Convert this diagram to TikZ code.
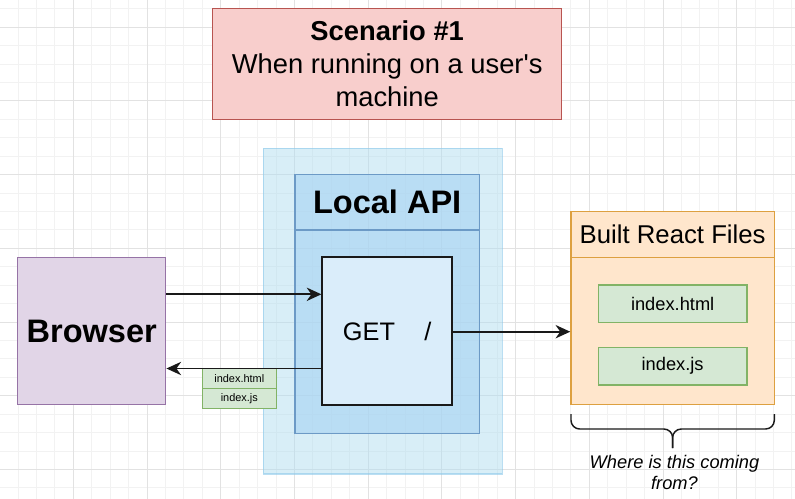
\documentclass[tikz,border=0pt]{standalone}
\usepackage{fontspec}
\setmainfont{Liberation Sans}[Ligatures=TeXOff]
\usetikzlibrary{positioning, arrows.meta}

\definecolor{minorgrid}{HTML}{F2F2F2}
\definecolor{majorgrid}{HTML}{E2E2E2}
\definecolor{titlefill}{HTML}{F8CECC}
\definecolor{titledraw}{HTML}{B85450}
\definecolor{browserfill}{HTML}{E1D5E7}
\definecolor{browserdraw}{HTML}{9673A6}
\definecolor{zonefill}{HTML}{B1DDF0}
\definecolor{zonedraw}{HTML}{8CC8EA}
\definecolor{apifill}{HTML}{A6D2F2}
\definecolor{apidraw}{HTML}{6C9AC6}
\definecolor{getfill}{HTML}{DAEDFA}
\definecolor{filesfill}{HTML}{FFE6CC}
\definecolor{filesdraw}{HTML}{DDA040}
\definecolor{htmlfill}{HTML}{D5E8D4}
\definecolor{htmldraw}{HTML}{82B366}

\tikzset{
  box/.style={draw, line width=1.1pt, inner sep=0pt, align=center},
  arr/.style={-{Stealth[length=11pt, width=10pt, inset=3.5pt]}, line width=1.4pt, black!90},
}

\begin{document}
\begin{tikzpicture}[x=0.75pt, y=-0.75pt, on grid,
    titlebox/.style={box, fill=titlefill, draw=titledraw, minimum width=261.75pt, minimum height=83.25pt, font=\fontsize{20.5}{25}\selectfont},
    browserbox/.style={box, fill=browserfill, draw=browserdraw, minimum width=111pt, minimum height=110.5pt, font=\bfseries\fontsize{24.4}{29}\selectfont},
    apibox/.style={box, fill=apifill, fill opacity=0.6, draw=apidraw, minimum width=138.2pt, minimum height=194.25pt},
    getbox/.style={box, fill=getfill, draw=black!90, line width=1.4pt, minimum width=97.3pt, minimum height=111pt, font=\fontsize{19}{23}\selectfont},
    filesbox/.style={box, fill=filesfill, draw=filesdraw, minimum width=152.5pt, minimum height=144.5pt},
    filebox/.style={box, fill=htmlfill, draw=htmldraw, minimum width=111.5pt, minimum height=28.3pt, font=\fontsize{13.7}{16}\selectfont},
    tagbox/.style={box, fill=htmlfill, draw=htmldraw, line width=0.9pt, minimum width=55.5pt, minimum height=15.3pt, font=\fontsize{8.2}{10}\selectfont},
    headtext/.style={font=\bfseries\fontsize{24.4}{29}\selectfont},
  ]
  \useasboundingbox (0,0) rectangle (795,499);

  % grid
  \foreach \i in {0,...,43}
    \draw[minorgrid, line width=0.6pt] ({-0.4+18.425*\i},0) -- ++(0,499);
  \foreach \i in {0,...,28}
    \draw[minorgrid, line width=0.6pt] (0,{-9.65+18.425*\i}) -- ++(795,0);
  \foreach \i in {0,...,10}
    \draw[majorgrid, line width=0.6pt] ({-0.4+73.7*\i},0) -- ++(0,499);
  \foreach \i in {0,...,6}
    \draw[majorgrid, line width=0.6pt] (0,{27.2+73.7*\i}) -- ++(795,0);

  % title
  \node[titlebox] (title) at (387.2,63.8) {\textbf{Scenario \#1}\\When running on a user's\\machine};

  % local api zone
  \draw[fill=zonefill, fill opacity=0.5, draw=zonedraw, draw opacity=0.6, line width=0.8pt]
    (263.3,148.3) rectangle (502.3,474);
  \node[apibox] (api) at (387.15,303.8) {};
  \draw[apidraw, line width=1.1pt] (api.west |- 0,230) -- (api.east |- 0,230);
  \node[headtext] (apilabel) at (api.north |- 0,202) {Local API};
  \node[getbox] (get) at (387.2,331.3) {GET\hspace{22pt}/};

  % browser
  \node[browserbox] (browser) at (91.7,331) {Browser};

  % built files
  \node[filesbox] (files) at (672.65,308) {};
  \draw[filesdraw, line width=1.1pt] (files.west |- 0,257.7) -- (files.east |- 0,257.7);
  \node[font=\fontsize{19.3}{23}\selectfont] (fileslabel) at (files.north |- 0,234.7) {Built React Files};
  \node[filebox] (html) at (672.65,303.8) {index.html};
  \node[filebox] (js) [below=46.8pt of html] {index.js};

  % response files
  \node[tagbox] (taghtml) at (239.3,378.5) {index.html};
  \node[tagbox] (tagjs) [below=15pt of taghtml] {index.js};

  % connectors
  \draw[arr] (browser.east |- 0,294.3) -- (get.west |- 0,294.3);
  \draw[arr] (get.east |- 0,331.7) -- (files.west |- 0,331.7);
  \draw[arr] (get.west |- 0,368.5) -- (browser.east |- 0,368.5);

  % brace
  \draw[black!90, line width=1.1pt, rounded corners=6.5pt] (571,414) -- (571,429) -- (672.6,429) -- (672.6,448);
  \draw[black!90, line width=1.1pt, rounded corners=6.5pt] (774.3,414) -- (774.3,429) -- (672.6,429) -- (672.6,448);
  \node[align=center, font=\itshape\fontsize{13.7}{16.2}\selectfont] (where) at (674.5,472.5) {Where is this coming\\from?};
\end{tikzpicture}
\end{document}
